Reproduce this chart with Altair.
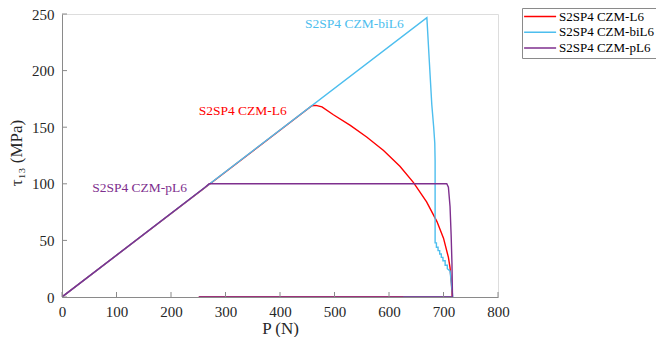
import altair as alt
import pandas as pd

# ---------------- data ----------------
series_names = ["S2SP4 CZM-L6", "S2SP4 CZM-biL6", "S2SP4 CZM-pL6"]
series_colors = ["#FF0000", "#4DBEEE", "#7E2F8E"]

red_x = [0, 458.6, 466, 477, 498, 529, 559, 590, 620, 645, 669, 688, 700, 709, 712, 714.5, 716, 251]
red_y = [0, 169, 169.3, 168, 161, 151.6, 141.3, 129.5, 115.5, 101, 84, 66.6, 52, 35, 26, 12, 0, 0]

cyan_x = [0, 669.5, 674, 678.5, 682, 684, 684.6, 684.6, 687, 687, 690, 690, 693, 693, 696, 696,
          699, 699, 703, 703, 707, 707, 712, 717, 626]
cyan_y = [0, 246.8, 208, 170, 150, 136, 120, 47.8, 47.8, 44, 44, 41, 41, 38, 38, 35,
          35, 32, 32, 28, 28, 25, 23, 0, 0]

purple_x = [0, 262, 270, 706, 709, 712, 714, 715.5, 716.5, 251]
purple_y = [0, 96.7, 100, 100, 97, 80, 55, 30, 0, 0]

label_x = [250.7, 446, 55.4]
label_y = [164, 241, 96.3]

x_ticks = [0, 100, 200, 300, 400, 500, 600, 700, 800]
y_ticks = [0, 50, 100, 150, 200, 250]

# ---------------- tables ----------------
rows = []
for name, xs, ys in zip(series_names, [red_x, cyan_x, purple_x], [red_y, cyan_y, purple_y]):
    for i, (xv, yv) in enumerate(zip(xs, ys)):
        rows.append({"series": name, "P": xv, "tau": yv, "ord": i})
lines_df = pd.DataFrame(rows)
labels_df = pd.DataFrame({"series": series_names, "P": label_x, "tau": label_y})
xt_df = pd.DataFrame({"v": x_ticks})
yt_df = pd.DataFrame({"v": y_ticks})

W, H = 436, 283
FONT = "Liberation Serif"
GRAY = "#8a8a8a"
TXT = "#262626"

xscale = alt.Scale(domain=[0, 800], nice=False, zero=False)
yscale = alt.Scale(domain=[0, 250], nice=False, zero=False)
cscale = alt.Scale(domain=series_names, range=series_colors)

lines = alt.Chart(lines_df).mark_line(strokeWidth=1.4, clip=True).encode(
    x=alt.X("P:Q", scale=xscale,
            axis=alt.Axis(values=x_ticks, ticks=False, grid=False, domainColor=GRAY,
                          labelFontSize=15, labelPadding=7, labelFlush=False, labelOverlap=False,
                          labelColor=TXT, labelFont=FONT,
                          title="P (N)", titleFont=FONT, titleFontSize=17, titleFontWeight="normal",
                          titleColor=TXT, titleX=W / 2, titleY=31, titleBaseline="middle",
                          titleAlign="center")),
    y=alt.Y("tau:Q", scale=yscale,
            axis=alt.Axis(values=y_ticks, ticks=False, grid=False, domainColor=GRAY,
                          labelFontSize=15, labelPadding=8, labelFlush=False, labelOverlap=False,
                          labelColor=TXT, labelFont=FONT,
                          title="τ₁₃ (MPa)", titleFont=FONT, titleFontSize=17, titleFontWeight="normal",
                          titleColor=TXT, titleX=-46, titleY=H / 2 - 3, titleAngle=-90,
                          titleBaseline="middle", titleAlign="center")),
    color=alt.Color("series:N", scale=cscale, sort=series_names,
                    legend=alt.Legend(title=None, orient="none", legendX=460, legendY=-6,
                                      symbolType="M-1.6,0H6.4", symbolSize=64, symbolStrokeWidth=1.5,
                                      labelFont=FONT, labelFontSize=13, labelColor="#000000",
                                      labelOffset=22, padding=2, rowPadding=1.8,
                                      strokeColor=GRAY, fillColor="white")),
    order=alt.Order("ord:Q"),
)

texts = alt.Chart(labels_df).mark_text(align="left", baseline="middle", font=FONT, fontSize=13.5).encode(
    x=alt.X("P:Q", scale=xscale),
    y=alt.Y("tau:Q", scale=yscale),
    color=alt.Color("series:N", scale=cscale, legend=None),
    text="series:N",
)

xticks = alt.Chart(xt_df).mark_rule(color=GRAY, strokeWidth=1).encode(
    x=alt.X("v:Q", scale=xscale),
    y=alt.value(H),
    y2=alt.value(H - 5),
)

yticks = alt.Chart(yt_df).mark_rule(color=GRAY, strokeWidth=1).encode(
    y=alt.Y("v:Q", scale=yscale),
    x=alt.value(0),
    x2=alt.value(5),
)

chart = alt.layer(lines, texts, xticks, yticks).properties(
    width=W, height=H,
    autosize=alt.AutoSizeParams(type="none"),
    padding={"left": 54, "top": 6, "right": 158, "bottom": 40},
).configure_view(stroke=None).configure(background="white")

chart.save("out.html", embed_options={"renderer": "svg", "actions": False})
